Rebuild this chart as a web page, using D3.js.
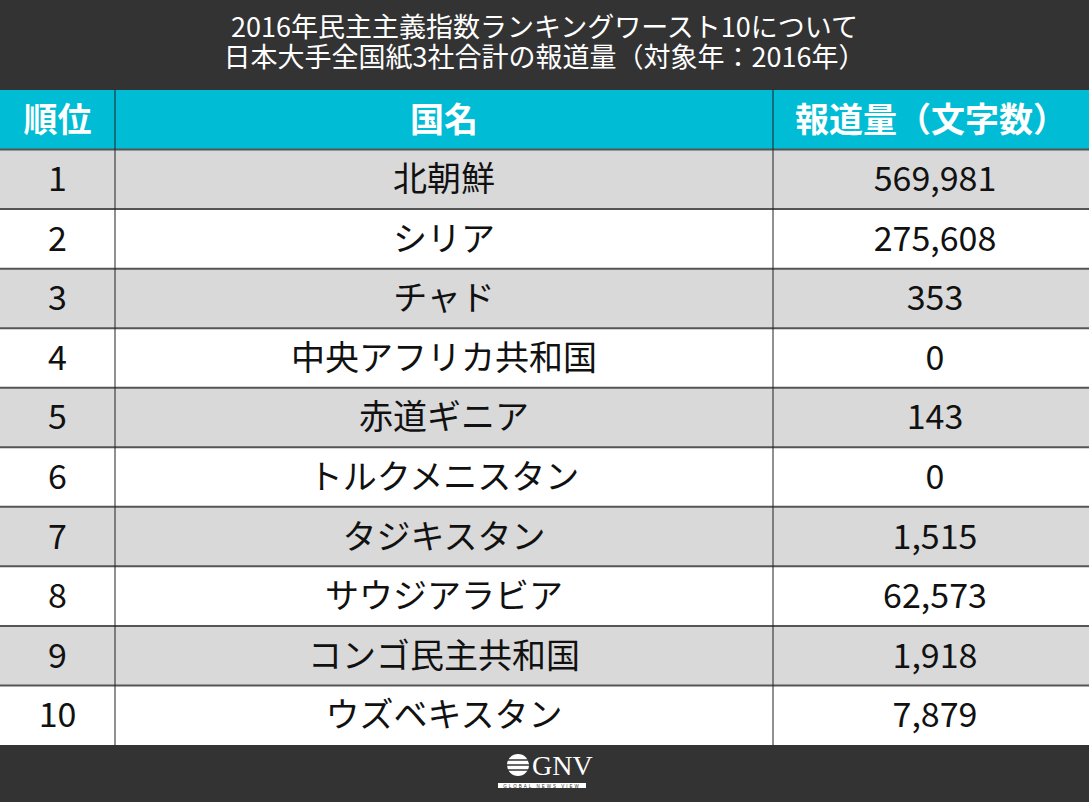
<!DOCTYPE html>
<html><head><meta charset="utf-8">
<script src="https://cdn.jsdelivr.net/npm/d3@7"></script>
<style>body{margin:0;background:#fff}</style>
</head><body><div id="vis"></div>
<script>
const TITLE = ["2016年民主主義指数ランキングワースト10について", "日本大手全国紙3社合計の報道量（対象年：2016年）"];
const HEADERS = ["順位", "国名", "報道量（文字数）"];
const RANKS = [1, 2, 3, 4, 5, 6, 7, 8, 9, 10];
const COUNTRIES = ["北朝鮮", "シリア", "チャド", "中央アフリカ共和国", "赤道ギニア", "トルクメニスタン", "タジキスタン", "サウジアラビア", "コンゴ民主共和国", "ウズベキスタン"];
const VOLUMES = [569981, 275608, 353, 0, 143, 0, 1515, 62573, 1918, 7879];

const W = 1089, H = 802;
const FONT = "'Noto Sans CJK JP', 'Noto Sans', sans-serif";
const svg = d3.select("#vis").append("svg").attr("width", W).attr("height", H);

svg.append("rect").attr("width", W).attr("height", 90).attr("fill", "#333");
svg.append("rect").attr("y", 745).attr("width", W).attr("height", H - 745).attr("fill", "#333");
svg.selectAll(".title").data(TITLE).enter().append("text")
  .attr("x", W / 2).attr("y", (d, i) => 37 + i * 30).attr("text-anchor", "middle")
  .attr("fill", "#fff").style("font-family", FONT).style("font-size", "27px").text(d => d);

const colX = [0, 115, 773, W];
const y = d3.scaleBand().domain(d3.range(-1, 10)).range([90, 745]);

// header
svg.append("rect").attr("y", y(-1)).attr("width", W).attr("height", y.bandwidth()).attr("fill", "#00bcd4");
svg.selectAll(".hd").data(HEADERS).enter().append("text")
  .attr("x", (d, i) => (colX[i] + colX[i + 1]) / 2).attr("y", y(-1) + y.bandwidth() / 2 + 12)
  .attr("text-anchor", "middle").attr("fill", "#fff").style("font-family", FONT)
  .style("font-size", "34px").style("font-weight", "bold").text(d => d);

const rows = svg.selectAll(".row").data(RANKS.map((r, i) => ({ r, c: COUNTRIES[i], v: VOLUMES[i], i })))
  .enter().append("g").attr("transform", d => `translate(0,${y(d.i)})`);
rows.append("rect").attr("width", W).attr("height", y.bandwidth())
  .attr("fill", d => d.i % 2 === 0 ? "#d9d9d9" : "#fff");
rows.append("line").attr("x1", 0).attr("x2", W).attr("y1", 0).attr("y2", 0)
  .attr("stroke", "#555").attr("stroke-width", 2);
const fmt = d3.format(",");
const cells = d => [d.r, d.c, fmt(d.v)];
rows.selectAll("text").data(d => cells(d)).enter().append("text")
  .attr("x", (d, i) => (colX[i] + colX[i + 1]) / 2 + (i === 2 ? 4 : 0)).attr("y", y.bandwidth() / 2 + 12)
  .attr("text-anchor", "middle").attr("fill", "#111").style("font-family", FONT)
  .style("font-size", "34px").text(d => d);

[115, 773].forEach(x => svg.append("line").attr("x1", x).attr("x2", x).attr("y1", 90).attr("y2", 745)
  .attr("stroke", "#222").attr("stroke-width", 1));

// logo
const lg = svg.append("g").attr("transform", "translate(518,765)");
lg.append("circle").attr("r", 11).attr("fill", "#fff");
[-5, 0, 5].forEach(dy => lg.append("line").attr("x1", -12).attr("x2", 12).attr("y1", dy).attr("y2", dy)
  .attr("stroke", "#333").attr("stroke-width", 1.5));
lg.append("text").attr("x", 14).attr("y", 10).attr("fill", "#fff")
  .style("font-family", "'Liberation Serif', serif").style("font-size", "28px").text("GNV");
lg.append("rect").attr("x", -20).attr("y", 18).attr("width", 88).attr("height", 5).attr("fill", "#fff");
lg.append("text").attr("x", 24).attr("y", 22.5).attr("text-anchor", "middle").attr("fill", "#333")
  .style("font-family", "sans-serif").style("font-size", "4.5px").style("letter-spacing", "2px").text("GLOBAL NEWS VIEW");
</script></body></html>
